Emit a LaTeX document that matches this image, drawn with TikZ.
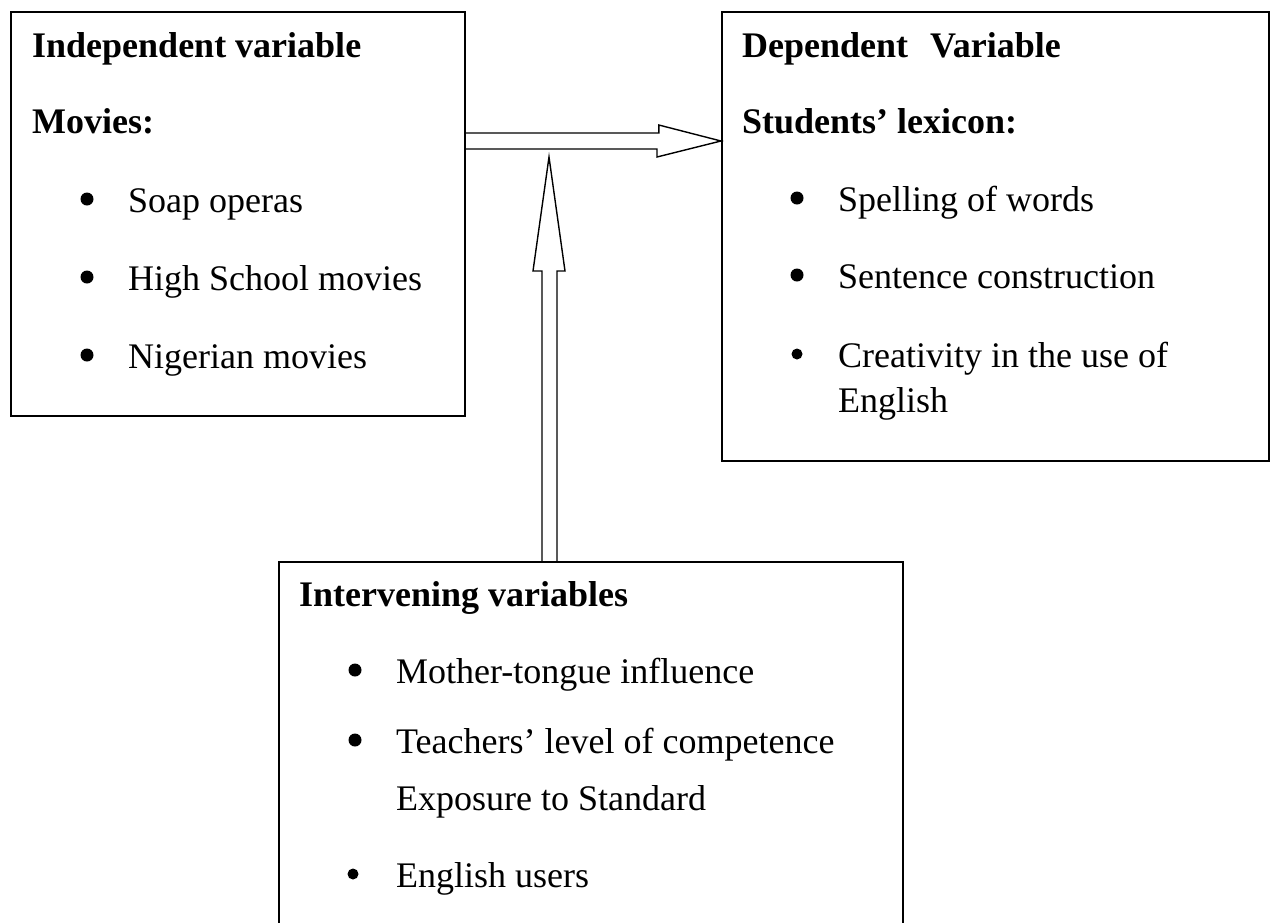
\documentclass[tikz,border=0pt]{standalone}
\usepackage{fontspec}
\setmainfont{Liberation Serif}
\begin{document}
\begin{tikzpicture}[x=1pt,y=1pt,
  box/.style={draw=black,line width=1.8pt,anchor=north west,inner sep=0pt},
  txt/.style={anchor=base west,inner sep=0pt,font=\fontsize{36}{43}\selectfont},
  head/.style={txt,font=\fontsize{36}{43}\selectfont\bfseries},
  arr/.style={draw=black,line width=1.4pt,line join=miter},
  bul/.style={fill=black}]
\useasboundingbox (0,0) rectangle (1277,-922);
\fill[white] (0,0) rectangle (1277,-922);
% boxes
\node[box,minimum width=454pt,minimum height=404pt] (indep) at (10,-11) {};
\node[box,minimum width=547pt,minimum height=449pt] (dep) at (721,-11) {};
\node[box,minimum width=624pt,minimum height=380pt] (inter) at (278,-561) {};
% left box text
\node[head] (t1) at (32,-57) {Independent variable};
\node[head] (t2) at (32,-133) {Movies:};
\node[txt] (t3) at (128,-212) {Soap operas};
\node[txt] (t4) at (128,-290) {High School movies};
\node[txt] (t5) at (128,-368) {Nigerian movies};
\fill[bul] (87,-199) circle (6.5);
\fill[bul] (87,-277) circle (6.5);
\fill[bul] (87,-355) circle (6.5);
% right box text
\node[head] (d1) at (742,-57) {Dependent\hspace{22pt}Variable};
\node[head] (d2) at (742,-133) {Students’ lexicon:};
\node[txt] (d3) at (838,-211) {Spelling of words};
\node[txt] (d4) at (838,-288) {Sentence construction};
\node[txt] (d5) at (838,-367) {Creativity in the use of};
\node[txt] (d6) at (838,-412) {English};
\fill[bul] (797,-198) circle (6.5);
\fill[bul] (797,-275) circle (6.5);
\fill[bul] (797,-354) circle (5.5);
% bottom box text
\node[head] (i1) at (299,-606) {Intervening variables};
\node[txt] (i2) at (396,-683) {Mother-tongue influence};
\node[txt] (i3) at (396,-753) {Teachers’ level of competence};
\node[txt] (i4) at (396,-810) {Exposure to Standard};
\node[txt] (i5) at (396,-887) {English users};
\fill[bul] (355,-670) circle (6.5);
\fill[bul] (355,-740) circle (6.5);
\fill[bul] (353,-874) circle (5.5);
% horizontal block arrow from indep to dep
\coordinate (hs) at ([yshift=-122pt]indep.north east);
\coordinate (ht) at (dep.west |- 0,-141);
\draw[arr] (hs) -- ++(193,0) -- ++(0,8) -- (ht) -- ++(-64,-16) -- ++(0,8) -- ++(-193,0);
% vertical block arrow from inter upwards
\coordinate (vs) at ([xshift=264pt]inter.north west);
\coordinate (vt) at (549,-157);
\draw[arr] (vs) -- ++(0,290) -- ++(-9,0) -- (vt) -- ++(16,-114) -- ++(-8,0) -- ++(0,-290);
\end{tikzpicture}
\end{document}
